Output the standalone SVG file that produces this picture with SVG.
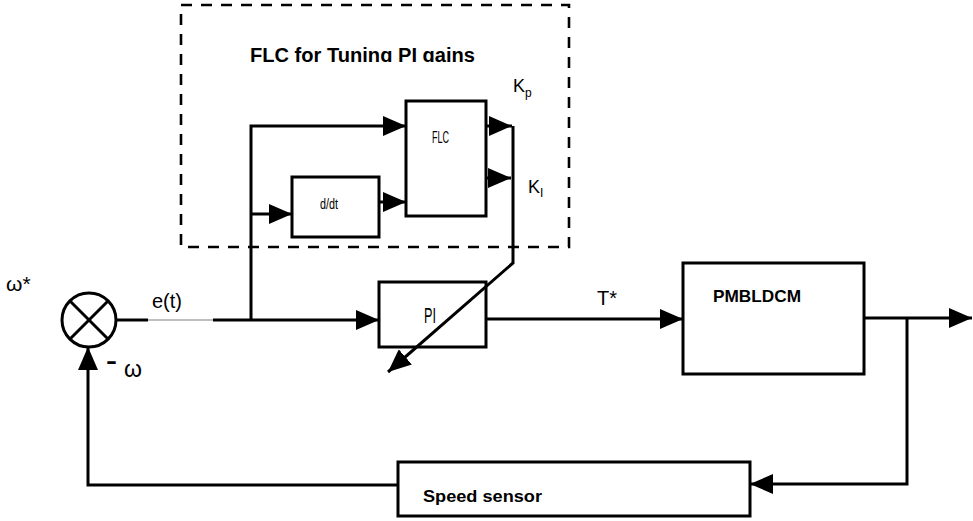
<svg xmlns="http://www.w3.org/2000/svg" width="973" height="521" viewBox="0 0 973 521">
<style>
.blk{fill:#fff;stroke:#000;stroke-width:3}
.ln{fill:none;stroke:#000;stroke-width:3}
.t{font-family:"Liberation Sans",Arial,sans-serif;fill:#000}
.b{font-weight:bold}
</style>
<defs>
<marker id="ah" markerUnits="userSpaceOnUse" markerWidth="24" markerHeight="20" refX="23" refY="10" orient="auto">
<path d="M0,0 L23,10 L0,20 z" fill="#000"/>
</marker>
<clipPath id="titleClip"><rect x="180" y="20" width="380" height="42"/></clipPath>
</defs>
<rect width="973" height="521" fill="#fff"/>

<g id="tuning-region">
<rect x="181" y="5" width="388" height="242" fill="none" stroke="#000" stroke-width="2.6" stroke-dasharray="11,9"/>
<text class="t b" x="250" y="62" font-size="20" textLength="225" lengthAdjust="spacingAndGlyphs" clip-path="url(#titleClip)">FLC for Tuning PI gains</text>
</g>

<g id="sum">
<circle cx="89" cy="320" r="27" class="blk"/>
<line x1="70" y1="301" x2="108" y2="339" class="ln"/>
<line x1="108" y1="301" x2="70" y2="339" class="ln"/>
<text class="t" x="6" y="291" font-size="21">ω*</text>
<text class="t b" x="106" y="368" font-size="22" textLength="11" lengthAdjust="spacingAndGlyphs">-</text>
<text class="t" x="124" y="377" font-size="23">ω</text>
</g>

<g id="flc">
<rect x="406" y="101" width="80" height="115" class="blk"/>
<text class="t" x="432" y="143" font-size="16" textLength="17" lengthAdjust="spacingAndGlyphs">FLC</text>
</g>

<g id="ddt">
<rect x="292" y="177" width="87" height="60" class="blk"/>
<text class="t" x="320" y="209" font-size="14" textLength="18" lengthAdjust="spacingAndGlyphs">d/dt</text>
</g>

<g id="pi">
<rect x="379" y="282" width="107" height="65" class="blk"/>
<text class="t" x="424" y="323" font-size="22" textLength="12" lengthAdjust="spacingAndGlyphs">PI</text>
</g>

<g id="motor">
<rect x="683" y="263" width="181" height="111" class="blk"/>
<text class="t b" x="713" y="302" font-size="17" textLength="88" lengthAdjust="spacingAndGlyphs">PMBLDCM</text>
</g>

<g id="sensor">
<rect x="398" y="462" width="352" height="54" class="blk"/>
<text class="t b" x="423" y="502" font-size="17" textLength="119" lengthAdjust="spacingAndGlyphs">Speed sensor</text>
</g>

<g id="connectors">
<line x1="116" y1="320" x2="148" y2="320" class="ln"/>
<line x1="148" y1="320" x2="213" y2="320" stroke="#aaa" stroke-width="1.5"/>
<line x1="213" y1="320" x2="379" y2="320" class="ln" marker-end="url(#ah)"/>
<polyline points="251,320 251,126 406,126" class="ln" marker-end="url(#ah)"/>
<line x1="251" y1="214" x2="292" y2="214" class="ln" marker-end="url(#ah)"/>
<line x1="379" y1="202" x2="406" y2="202" class="ln" marker-end="url(#ah)"/>
<line x1="486" y1="126" x2="512" y2="126" class="ln" marker-end="url(#ah)"/>
<line x1="486" y1="178" x2="511" y2="178" class="ln" marker-end="url(#ah)"/>
<polyline points="513,126 513,263 388,372" class="ln" marker-end="url(#ah)"/>
<line x1="486" y1="319" x2="683" y2="319" class="ln" marker-end="url(#ah)"/>
<line x1="864" y1="318" x2="972" y2="318" class="ln" marker-end="url(#ah)"/>
<polyline points="907,318 907,484 750,484" class="ln" marker-end="url(#ah)"/>
<polyline points="398,485 88,485 88,347" class="ln" marker-end="url(#ah)"/>
</g>

<g id="labels">
<text class="t" x="152" y="308" font-size="20">e(t)</text>
<text class="t" x="597" y="305" font-size="20" textLength="20" lengthAdjust="spacingAndGlyphs">T*</text>
<text class="t" x="513" y="92" font-size="18">K<tspan font-size="12" dy="5">p</tspan></text>
<text class="t" x="528" y="193" font-size="18">K<tspan font-size="12" dy="4">I</tspan></text>
</g>
</svg>
